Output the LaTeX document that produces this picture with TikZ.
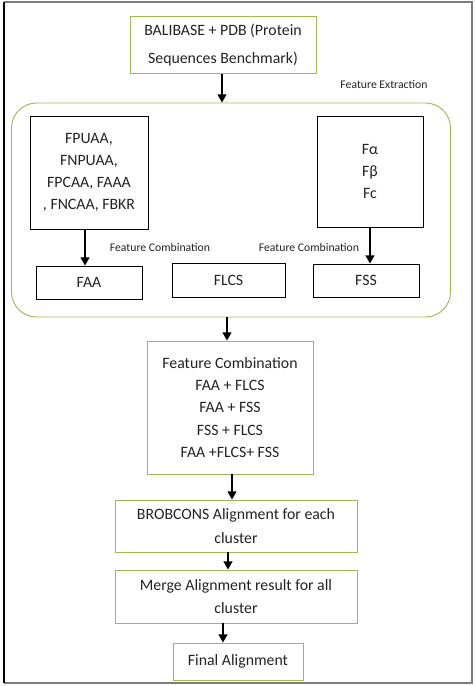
\documentclass[tikz,border=0pt]{standalone}
\usepackage{fontspec}
\setmainfont{Carlito}
\usepackage{tikz}
\usetikzlibrary{arrows.meta, positioning, calc}
\definecolor{boxgreen}{RGB}{155,187,89}
\definecolor{mytext}{RGB}{35,35,35}
\definecolor{framegray}{RGB}{125,125,125}
\newcommand{\mainfs}{\fontsize{13.5}{19}\selectfont}
\tikzset{
  greenbox/.style={rectangle, draw=boxgreen, line width=0.8pt, align=center,
    font=\mainfs, text=mytext, inner sep=0pt},
  blackbox/.style={rectangle, draw=black, line width=0.8pt, align=center,
    font=\mainfs, text=mytext, inner sep=0pt},
  featarea/.style={rectangle, draw=boxgreen, line width=0.8pt,
    rounded corners=0.75cm},
  tag/.style={font=\fontsize{10}{12}\selectfont, text=mytext, inner sep=1pt},
  arrow/.style={-{Triangle[width=7.5pt,length=7pt]}, line width=1.5pt, color=black}
}
\begin{document}
\begin{tikzpicture}[x=0.03cm, y=-0.03cm]
  \useasboundingbox (0,0) rectangle (475,686);
  % outer frame
  \draw[framegray, line width=1.5pt] (4,2) -- (472,2) -- (472,683) -- (4,683);
  \draw[black, line width=1pt] (4,2) -- (4,683);

  \node[greenbox, minimum width=5.58cm, minimum height=1.71cm,
    font=\fontsize{13.5}{24}\selectfont] (src) at (223,45)
    {BALIBASE + PDB (Protein\\Sequences Benchmark)};

  \node[featarea, minimum width=13.17cm, minimum height=6.42cm] (area) at (231,210) {};
  \node[tag] (extr) at (384,84) {Feature Extraction};

  \node[blackbox, minimum width=3.54cm, minimum height=3.39cm] (lbox) at (89,172.5)
    {FPUAA,\\FNPUAA,\\FPCAA, FAAA\\, FNCAA, FBKR};
  \node[blackbox, minimum width=3.18cm, minimum height=3.33cm,
    font=\fontsize{13.5}{18.5}\selectfont] (rbox) at (370,171.5)
    {Fα\\Fβ\\Fc};

  \node[blackbox, minimum width=3.18cm, minimum height=0.99cm] (faa) at (89,282.5) {FAA};
  \node[blackbox, minimum width=3.39cm, minimum height=1.02cm] (flcs) at (228.5,280) {FLCS};
  \node[blackbox, minimum width=3.18cm, minimum height=0.99cm] (fss) at (366,280.5) {FSS};

  \node[tag] (combl) at (160,247) {Feature Combination};
  \node[tag] (combr) at (309,247) {Feature Combination};

  \node[greenbox, minimum width=4.98cm, minimum height=3.99cm] (comb) at (230,407.5)
    {Feature Combination\\FAA + FLCS\\FAA + FSS\\FSS + FLCS\\FAA +FLCS+ FSS};

  \node[greenbox, minimum width=7.26cm, minimum height=1.56cm,
    font=\fontsize{13.5}{21}\selectfont] (brob) at (236,526)
    {BROBCONS Alignment for each\\cluster};
  \node[greenbox, minimum width=7.26cm, minimum height=1.59cm,
    font=\fontsize{13.5}{20}\selectfont] (merge) at (236,596.5)
    {Merge Alignment result for all\\cluster};
  \node[greenbox, minimum width=3.9cm, minimum height=1.11cm] (final) at (238,661.5)
    {Final Alignment};

  \draw[arrow] ([xshift=-0.03cm]src.south) -- ([xshift=-0.03cm]src.south |- area.north);
  \draw[arrow] ([xshift=-0.12cm]lbox.south) -- ([xshift=-0.12cm]lbox.south |- faa.north);
  \draw[arrow] (rbox.south) -- (rbox.south |- fss.north);
  \draw[arrow] ([xshift=-0.09cm]comb.north |- area.south) -- ([xshift=-0.09cm]comb.north);
  \draw[arrow] ([xshift=0.06cm]comb.south) -- ([xshift=0.06cm]comb.south |- brob.north);
  \draw[arrow] ([xshift=-0.24cm]brob.south) -- ([xshift=-0.24cm]brob.south |- merge.north);
  \draw[arrow] ([xshift=-0.39cm]merge.south) -- ([xshift=-0.39cm]merge.south |- final.north);
\end{tikzpicture}
\end{document}
